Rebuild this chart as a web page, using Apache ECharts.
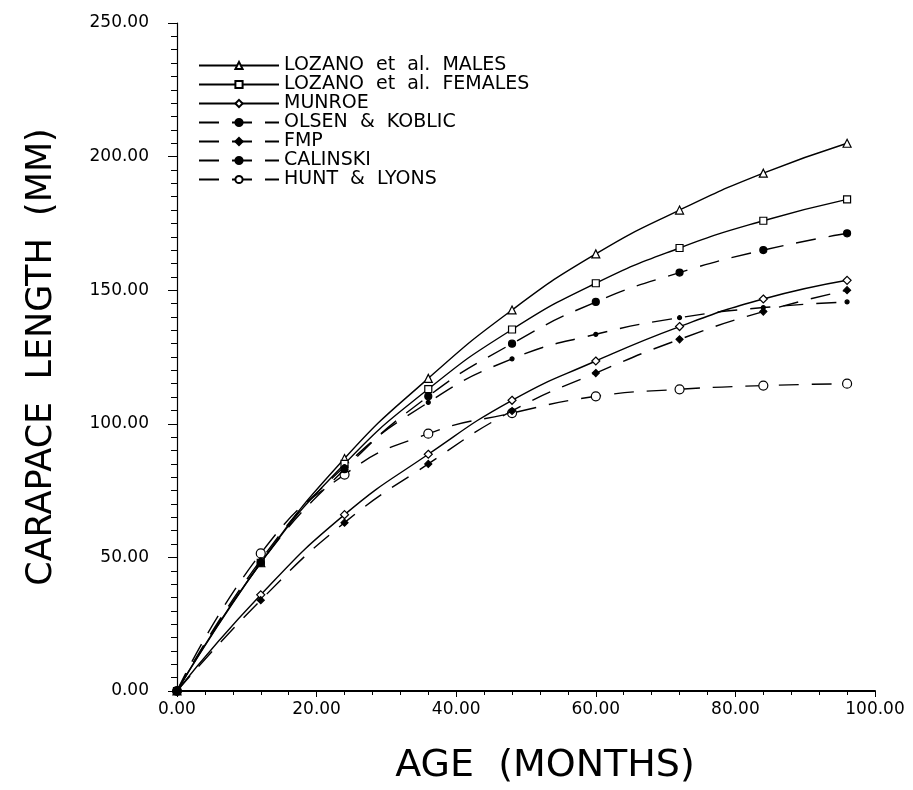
<!DOCTYPE html>
<html>
<head>
<meta charset="utf-8">
<script src="https://cdn.jsdelivr.net/npm/echarts@6/dist/echarts.min.js"></script>
<style>
  html, body { margin: 0; padding: 0; background: #fff; }
  #chart { width: 913px; height: 790px; }
</style>
</head>
<body>
<div id="chart"></div>
<script>
// age in months, one point per year
const ages = [0, 12, 24, 36, 48, 60, 72, 84, 96]

// carapace length (mm)
const lozanoMales   = [0, 48, 87, 117, 142.6, 163.6, 180, 193.8, 205]
const lozanoFemales = [0, 48, 85, 113, 135.3, 152.6, 165.8, 176, 184]
const munroe        = [0, 36, 66, 88.6, 108.8, 123.5, 136.4, 146.7, 153.7]
const olsenKoblic   = [0, 49, 84, 108, 124.3, 133.5, 139.7, 143.5, 145.6]
const fmp           = [0, 34, 63, 85, 104.8, 119, 131.6, 142, 150]
const calinski      = [0, 48, 83, 110.3, 130, 145.6, 156.6, 165, 171.3]
const huntLyons     = [0, 51.5, 81, 96.3, 104, 110.3, 112.9, 114.3, 115]

const xTicks = [0, 20, 40, 60, 80, 100]
const yTicks = [0, 50, 100, 150, 200, 250]

const FONT = 'DejaVu Sans'

const chart = echarts.init(document.getElementById('chart'))

// build [x, y] pairs from the arrays
const pairs = vals => ages.map((a, i) => [a, vals[i]])

const makeSeries = (name, vals, symbol, size, filled, dashed, z) => ({
  name: name,
  type: 'line',
  smooth: true,
  data: pairs(vals),
  symbol: symbol,
  symbolSize: size,
  showSymbol: true,
  itemStyle: {
    color: filled ? '#000' : '#fff',
    borderColor: '#000',
    borderWidth: 1.2
  },
  lineStyle: {
    color: '#000',
    width: 1.4,
    type: dashed ? [20, 13] : 'solid'
  },
  emphasis: { disabled: true },
  z: z || 3
})

const option = {
  animation: false,
  backgroundColor: '#fff',
  textStyle: { fontFamily: FONT, color: '#000' },
  grid: {
    left: 177,
    right: 38,
    top: 23,
    bottom: 87
  },
  legend: {
    orient: 'vertical',
    left: 193,
    top: 51,
    itemWidth: 80,
    itemHeight: 9,
    itemGap: 0,
    textStyle: {
      fontFamily: FONT,
      fontSize: 19,
      lineHeight: 17.5,
      color: '#000'
    },
    selectedMode: false
  },
  xAxis: {
    type: 'value',
    min: xTicks[0],
    max: xTicks[xTicks.length - 1],
    interval: 20,
    name: 'AGE  (MONTHS)',
    nameLocation: 'middle',
    nameGap: 56,
    nameTextStyle: { fontFamily: FONT, fontSize: 38, color: '#000', padding: [0, 0, 0, 38] },
    axisLine: { onZero: false, lineStyle: { color: '#000', width: 2 } },
    axisTick: { show: true, inside: false, length: 6, lineStyle: { color: '#000' } },
    minorTick: { show: true, splitNumber: 5, length: 4, lineStyle: { color: '#000' } },
    axisLabel: {
      fontFamily: FONT,
      fontSize: 17,
      color: '#000',
      margin: 10,
      formatter: v => v.toFixed(2)
    },
    splitLine: { show: false }
  },
  yAxis: {
    type: 'value',
    min: yTicks[0],
    max: yTicks[yTicks.length - 1],
    interval: 50,
    name: 'CARAPACE  LENGTH  (MM)',
    nameLocation: 'middle',
    nameGap: 118,
    nameTextStyle: { fontFamily: FONT, fontSize: 35, color: '#000' },
    axisLine: { show: true, lineStyle: { color: '#000', width: 1.2 } },
    axisTick: { show: true, inside: false, length: 9, lineStyle: { color: '#000' } },
    minorTick: { show: true, splitNumber: 10, length: 6, lineStyle: { color: '#000' } },
    axisLabel: {
      fontFamily: FONT,
      fontSize: 17,
      color: '#000',
      margin: 28,
      formatter: v => v.toFixed(2)
    },
    splitLine: { show: false }
  },
  series: [
    makeSeries('LOZANO  et  al.  MALES', lozanoMales, 'triangle', 8, false, false),
    makeSeries('LOZANO  et  al.  FEMALES', lozanoFemales, 'rect', 7, false, false),
    makeSeries('MUNROE', munroe, 'diamond', 8, false, false),
    makeSeries('OLSEN  &  KOBLIC', olsenKoblic, 'circle', 4, true, true),
    makeSeries('FMP', fmp, 'diamond', 7, true, true),
    makeSeries('CALINSKI', calinski, 'circle', 7, true, true, 4),
    makeSeries('HUNT  &  LYONS', huntLyons, 'circle', 9, false, true, 2)
  ]
}

chart.setOption(option)
</script>
</body>
</html>
